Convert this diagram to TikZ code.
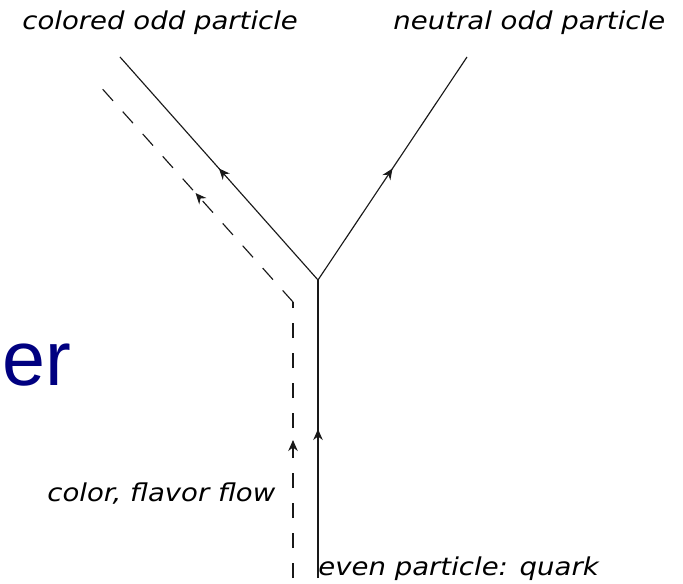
\documentclass[tikz,border=0pt]{standalone}
\usepackage{fontspec}
\setmainfont{Liberation Sans}
\setsansfont{DejaVu Sans}
\usetikzlibrary{decorations.markings,arrows.meta}
\definecolor{navy}{RGB}{0,0,128}

\begin{document}
\begin{tikzpicture}[x=0.02cm, y=-0.02cm,
  line/.style={draw=black!90, line width=0.65pt},
  flow/.style={line, dash pattern=on 0.31cm off 0.29cm},
  midarrow/.style={postaction={decorate}, decoration={markings,
    mark=at position 0.5 with {\arrow[solid]{Stealth[length=2.2mm,width=1.9mm]}}}},
  lbl/.style={font=\sffamily\itshape\fontsize{14}{16}\selectfont, xscale=1.12, inner sep=0pt, anchor=base west}]
\useasboundingbox (0,0) rectangle (683,584);
% points of the vertex
\coordinate (vtx) at (318,280);
\coordinate (qin) at (318,578);
\coordinate (codd) at (120,57);
\coordinate (nodd) at (467,57);
\coordinate (fin) at (293,578);
\coordinate (fbend) at (293,302);
\coordinate (fout) at (98,84);
% particle lines
\draw[line, midarrow] (qin) -- (vtx);
\draw[line, midarrow] (vtx) -- (codd);
\draw[line, midarrow] (vtx) -- (nodd);
% color flow
\draw[flow, midarrow] (fin) -- (fbend);
\draw[flow, midarrow] (fbend) -- (fout);
% labels
\node[lbl] (lcodd) at (22,30) {colored odd particle};
\node[lbl] (lnodd) at (393,30) {neutral odd particle};
\node[lbl] (lflow) at (47,501) {color, flavor flow};
\node[lbl] (lquark) at (318,575) {even particle: quark};
\node[font=\fontsize{44}{50}\selectfont, text=navy, inner sep=0pt, anchor=base west] (er) at (2,385) {er};
\end{tikzpicture}
\end{document}
